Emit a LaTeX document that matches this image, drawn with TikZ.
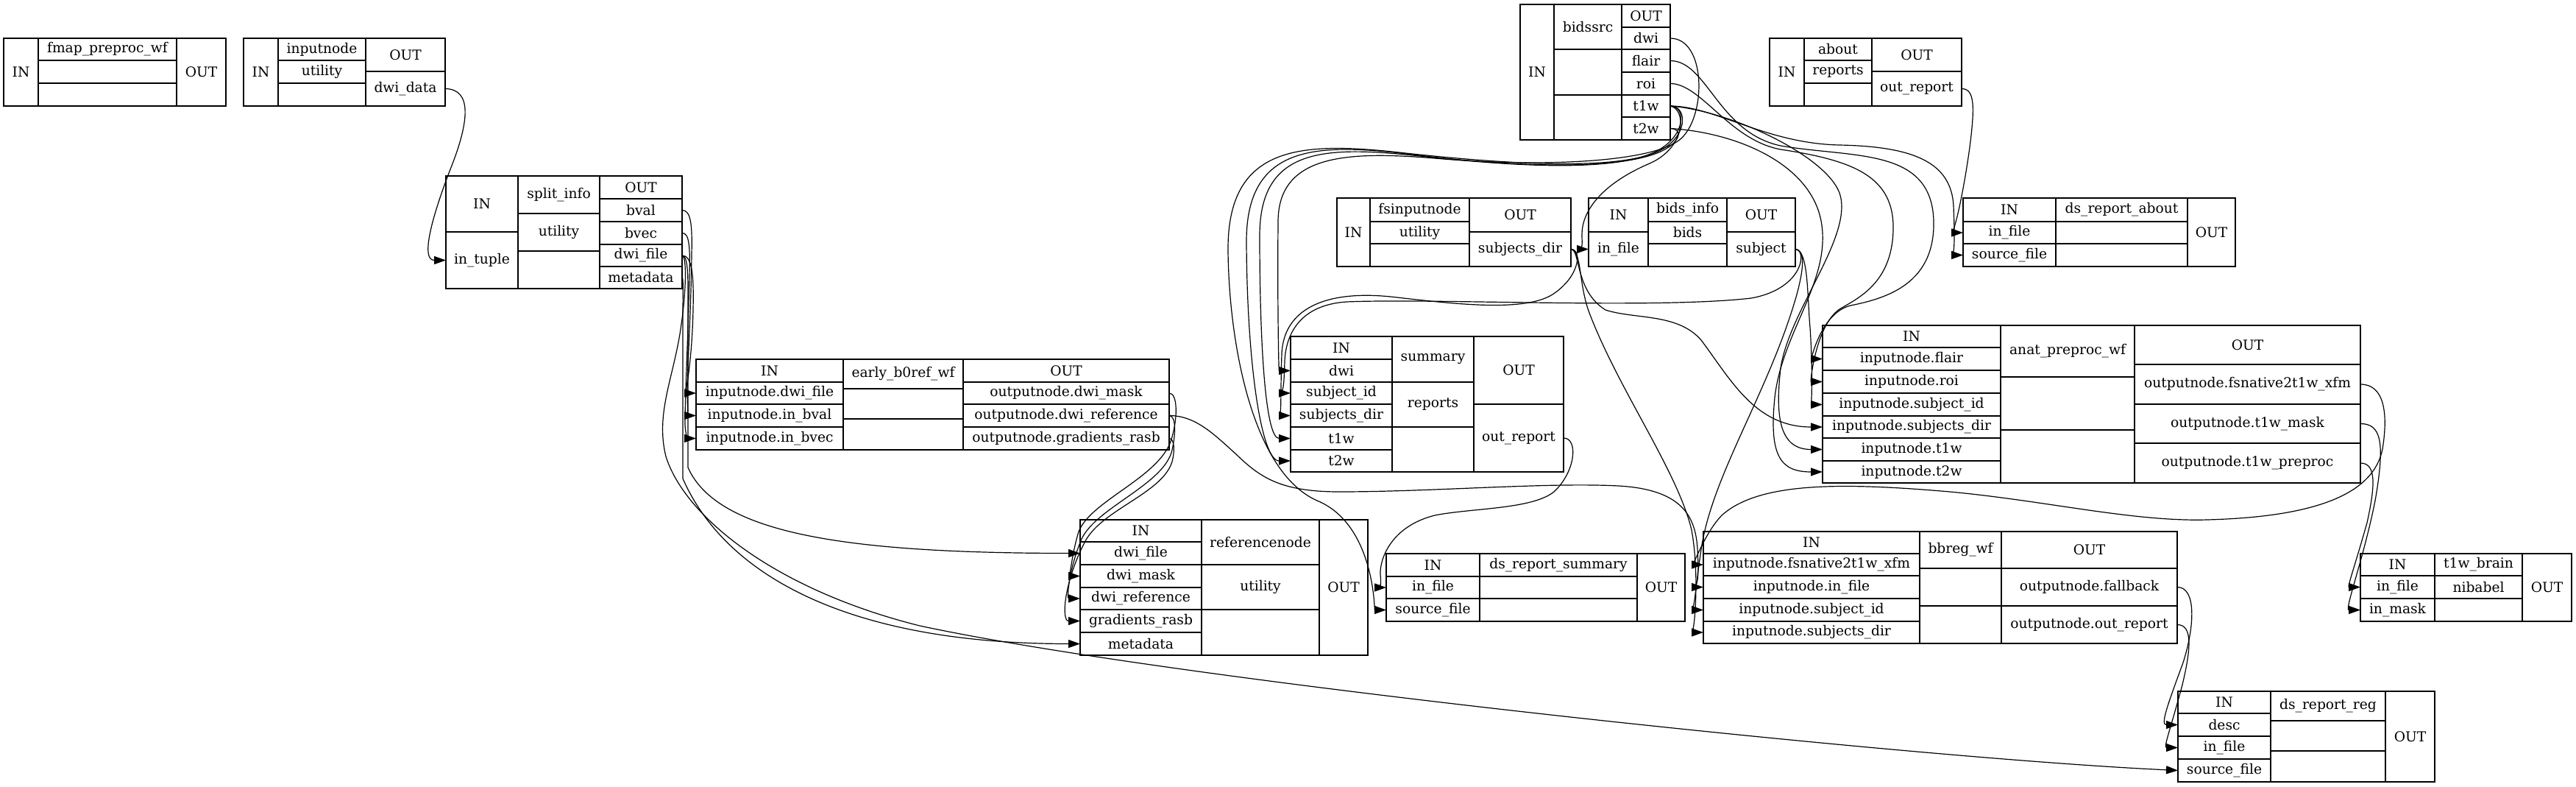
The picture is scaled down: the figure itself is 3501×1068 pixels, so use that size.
\documentclass[tikz,border=0pt]{standalone}
\usepackage{fontspec}
\setmainfont{DejaVu Serif}
\usetikzlibrary{arrows.meta}
\tikzset{
 cellbox/.style={draw=black, line width=1.3pt, inner sep=0pt, outer sep=0pt, font=\fontsize{18.67}{22}\selectfont, anchor=center},
 edge/.style={draw=black, line width=1.2pt, -{Triangle[length=16pt,width=11pt]}},
}
\newcommand\rc[6]{\node[cellbox, minimum width={#4pt-#2pt}, minimum height={#5pt-#3pt}] (#1) at ({(#2+#4)/2},{(#3+#5)/2}) {#6};}
\begin{document}
\begin{tikzpicture}[x=1pt,y=-1pt]
\fill[white] (0,0) rectangle (3501,1068);
\useasboundingbox (0,0) rectangle (3501,1068);
% fmap_preproc_wf
\rc{fmap-in}{5}{52}{52}{144}{IN}
\rc{fmap-t}{52}{52}{240}{82}{fmap\_preproc\_wf}
\rc{fmap-m1}{52}{82}{240}{113}{}
\rc{fmap-m2}{52}{113}{240}{144}{}
\rc{fmap-out}{240}{52}{307}{144}{OUT}
% inputnode
\rc{inp-in}{331}{52}{378}{144}{IN}
\rc{inp-t}{378}{52}{497}{82}{inputnode}
\rc{inp-u}{378}{82}{497}{113}{utility}
\rc{inp-m}{378}{113}{497}{144}{}
\rc{inp-out}{497}{52}{605}{97}{OUT}
\rc{inp-dwidata}{497}{97}{605}{144}{dwi\_data}
% split_info
\rc{spl-in}{606}{239}{704}{315}{IN}
\rc{spl-intuple}{606}{315}{704}{392}{in\_tuple}
\rc{spl-t}{704}{239}{815}{290}{split\_info}
\rc{spl-u}{704}{290}{815}{341}{utility}
\rc{spl-m}{704}{341}{815}{392}{}
\rc{spl-out}{815}{239}{927}{270}{OUT}
\rc{spl-bval}{815}{270}{927}{301}{bval}
\rc{spl-bvec}{815}{301}{927}{332}{bvec}
\rc{spl-dwifile}{815}{332}{927}{362}{dwi\_file}
\rc{spl-meta}{815}{362}{927}{392}{metadata}
% bidssrc
\rc{bs-in}{2066}{6}{2112}{190}{IN}
\rc{bs-t}{2112}{6}{2204}{67}{bidssrc}
\rc{bs-m1}{2112}{67}{2204}{129}{}
\rc{bs-m2}{2112}{129}{2204}{190}{}
\rc{bs-out}{2204}{6}{2270}{37}{OUT}
\rc{bs-dwi}{2204}{37}{2270}{67}{dwi}
\rc{bs-flair}{2204}{67}{2270}{98}{flair}
\rc{bs-roi}{2204}{98}{2270}{129}{roi}
\rc{bs-t1w}{2204}{129}{2270}{159}{t1w}
\rc{bs-t2w}{2204}{159}{2270}{190}{t2w}
% about
\rc{ab-in}{2405}{52}{2452}{144}{IN}
\rc{ab-t}{2452}{52}{2544}{82}{about}
\rc{ab-r}{2452}{82}{2544}{113}{reports}
\rc{ab-m}{2452}{113}{2544}{144}{}
\rc{ab-out}{2544}{52}{2666}{97}{OUT}
\rc{ab-outrep}{2544}{97}{2666}{144}{out\_report}
% fsinputnode
\rc{fs-in}{1817}{269}{1862}{362}{IN}
\rc{fs-t}{1862}{269}{1997}{301}{fsinputnode}
\rc{fs-u}{1862}{301}{1997}{331}{utility}
\rc{fs-m}{1862}{331}{1997}{362}{}
\rc{fs-out}{1997}{269}{2135}{315}{OUT}
\rc{fs-sd}{1997}{315}{2135}{362}{subjects\_dir}
% bids_info
\rc{bi-in}{2159}{269}{2240}{315}{IN}
\rc{bi-infile}{2159}{315}{2240}{362}{in\_file}
\rc{bi-t}{2240}{269}{2347}{301}{bids\_info}
\rc{bi-b}{2240}{301}{2347}{331}{bids}
\rc{bi-m}{2240}{331}{2347}{362}{}
\rc{bi-out}{2347}{269}{2440}{315}{OUT}
\rc{bi-subj}{2347}{315}{2440}{362}{subject}
% ds_report_about
\rc{dra-in}{2668}{269}{2794}{301}{IN}
\rc{dra-infile}{2668}{301}{2794}{331}{in\_file}
\rc{dra-src}{2668}{331}{2794}{362}{source\_file}
\rc{dra-t}{2794}{269}{2973}{301}{ds\_report\_about}
\rc{dra-m1}{2794}{301}{2973}{331}{}
\rc{dra-m2}{2794}{331}{2973}{362}{}
\rc{dra-out}{2973}{269}{3038}{362}{OUT}
% early_b0ref_wf
\rc{eb-in}{946}{488}{1146}{519}{IN}
\rc{eb-dwifile}{946}{519}{1146}{549}{inputnode.dwi\_file}
\rc{eb-bval}{946}{549}{1146}{580}{inputnode.in\_bval}
\rc{eb-bvec}{946}{580}{1146}{611}{inputnode.in\_bvec}
\rc{eb-t}{1146}{488}{1309}{528}{early\_b0ref\_wf}
\rc{eb-m1}{1146}{528}{1309}{569}{}
\rc{eb-m2}{1146}{569}{1309}{611}{}
\rc{eb-out}{1309}{488}{1589}{519}{OUT}
\rc{eb-mask}{1309}{519}{1589}{549}{outputnode.dwi\_mask}
\rc{eb-ref}{1309}{549}{1589}{580}{outputnode.dwi\_reference}
\rc{eb-grad}{1309}{580}{1589}{611}{outputnode.gradients\_rasb}
% summary
\rc{su-in}{1754}{457}{1892}{488}{IN}
\rc{su-dwi}{1754}{488}{1892}{519}{dwi}
\rc{su-sid}{1754}{519}{1892}{549}{subject\_id}
\rc{su-sd}{1754}{549}{1892}{580}{subjects\_dir}
\rc{su-t1w}{1754}{580}{1892}{611}{t1w}
\rc{su-t2w}{1754}{611}{1892}{641}{t2w}
\rc{su-t}{1892}{457}{2003}{519}{summary}
\rc{su-r}{1892}{519}{2003}{580}{reports}
\rc{su-m}{1892}{580}{2003}{641}{}
\rc{su-out}{2003}{457}{2125}{549}{OUT}
\rc{su-outrep}{2003}{549}{2125}{641}{out\_report}
% referencenode
\rc{rn-in}{1468}{706}{1633}{736}{IN}
\rc{rn-dwifile}{1468}{736}{1633}{767}{dwi\_file}
\rc{rn-mask}{1468}{767}{1633}{798}{dwi\_mask}
\rc{rn-ref}{1468}{798}{1633}{828}{dwi\_reference}
\rc{rn-grad}{1468}{828}{1633}{859}{gradients\_rasb}
\rc{rn-meta}{1468}{859}{1633}{890}{metadata}
\rc{rn-t}{1633}{706}{1793}{767}{referencenode}
\rc{rn-u}{1633}{767}{1793}{828}{utility}
\rc{rn-m}{1633}{828}{1793}{890}{}
\rc{rn-out}{1793}{706}{1859}{890}{OUT}
% ds_report_summary
\rc{drs-in}{1884}{752}{2011}{783}{IN}
\rc{drs-infile}{1884}{783}{2011}{813}{in\_file}
\rc{drs-src}{1884}{813}{2011}{844}{source\_file}
\rc{drs-t}{2011}{752}{2225}{783}{ds\_report\_summary}
\rc{drs-m1}{2011}{783}{2225}{813}{}
\rc{drs-m2}{2011}{813}{2225}{844}{}
\rc{drs-out}{2225}{752}{2290}{844}{OUT}
% anat_preproc_wf
\rc{an-in}{2477}{442}{2719}{472}{IN}
\rc{an-flair}{2477}{472}{2719}{503}{inputnode.flair}
\rc{an-roi}{2477}{503}{2719}{534}{inputnode.roi}
\rc{an-sid}{2477}{534}{2719}{565}{inputnode.subject\_id}
\rc{an-sd}{2477}{565}{2719}{595}{inputnode.subjects\_dir}
\rc{an-t1w}{2477}{595}{2719}{626}{inputnode.t1w}
\rc{an-t2w}{2477}{626}{2719}{656}{inputnode.t2w}
\rc{an-t}{2719}{442}{2901}{512}{anat\_preproc\_wf}
\rc{an-m1}{2719}{512}{2901}{584}{}
\rc{an-m2}{2719}{584}{2901}{656}{}
\rc{an-out}{2901}{442}{3208}{495}{OUT}
\rc{an-xfm}{2901}{495}{3208}{549}{outputnode.fsnative2t1w\_xfm}
\rc{an-mask}{2901}{549}{3208}{602}{outputnode.t1w\_mask}
\rc{an-pre}{2901}{602}{3208}{656}{outputnode.t1w\_preproc}
% bbreg_wf
\rc{bb-in}{2315}{722}{2609}{752}{IN}
\rc{bb-xfm}{2315}{752}{2609}{782}{inputnode.fsnative2t1w\_xfm}
\rc{bb-infile}{2315}{782}{2609}{813}{inputnode.in\_file}
\rc{bb-sid}{2315}{813}{2609}{844}{inputnode.subject\_id}
\rc{bb-sd}{2315}{844}{2609}{874}{inputnode.subjects\_dir}
\rc{bb-t}{2609}{722}{2720}{772}{bbreg\_wf}
\rc{bb-m1}{2609}{772}{2720}{823}{}
\rc{bb-m2}{2609}{823}{2720}{874}{}
\rc{bb-out}{2720}{722}{2959}{772}{OUT}
\rc{bb-fb}{2720}{772}{2959}{823}{outputnode.fallback}
\rc{bb-rep}{2720}{823}{2959}{874}{outputnode.out\_report}
% t1w_brain
\rc{tb-in}{3208}{752}{3309}{782}{IN}
\rc{tb-infile}{3208}{782}{3309}{813}{in\_file}
\rc{tb-mask}{3208}{813}{3309}{844}{in\_mask}
\rc{tb-t}{3309}{752}{3428}{782}{t1w\_brain}
\rc{tb-n}{3309}{782}{3428}{813}{nibabel}
\rc{tb-m}{3309}{813}{3428}{844}{}
\rc{tb-out}{3428}{752}{3495}{844}{OUT}
% ds_report_reg
\rc{drr-in}{2960}{939}{3086}{969}{IN}
\rc{drr-desc}{2960}{969}{3086}{1000}{desc}
\rc{drr-infile}{2960}{1000}{3086}{1031}{in\_file}
\rc{drr-src}{2960}{1031}{3086}{1062}{source\_file}
\rc{drr-t}{3086}{939}{3242}{979}{ds\_report\_reg}
\rc{drr-m1}{3086}{979}{3242}{1020}{}
\rc{drr-m2}{3086}{1020}{3242}{1062}{}
\rc{drr-out}{3242}{939}{3309}{1062}{OUT}

% ---- edges ----
\draw[edge] (inp-dwidata.east) .. controls (642,121) and (638,165) .. (612,230) .. controls (585,300) and (572,353.5) .. (spl-intuple.west);
% split_info
\draw[edge] (spl-bval.east) .. controls (939,285.5) and (941,305) .. (940,345) .. controls (939,430) and (934,500) .. (934,535) .. controls (934,556) and (937,564.5) .. (eb-bval.west);
\draw[edge] (spl-bvec.east) .. controls (937,316.5) and (938,335) .. (937,375) .. controls (935,460) and (931,540) .. (931,575) .. controls (931,590) and (936,595.5) .. (eb-bvec.west);
\draw[edge] (spl-dwifile.east) .. controls (941,347) and (943,375) .. (942,420) .. controls (941,480) and (933,534) .. (eb-dwifile.west);
\draw[edge] (spl-dwifile.east) .. controls (936,347) and (935,380) .. (935,420) -- (935,635) .. controls (975,725) and (1150,751.5) .. (rn-dwifile.west);
\draw[edge] (spl-meta.east) .. controls (929,377.5) and (928,395) .. (928,430) -- (928,650) .. controls (985,780) and (1150,874.5) .. (rn-meta.west);
\draw[edge] (spl-dwifile.east) .. controls (934,348) and (932,400) .. (926,440) .. controls (917,510) and (890,560) .. (905,620) .. controls (930,700) and (1050,800) .. (1250,850) .. controls (1600,925) and (2600,1030) .. (drr-src.west);
% early -> referencenode
\draw[edge] (eb-mask.east) .. controls (1601,534) and (1601,570) .. (1591,600) .. controls (1572,650) and (1483,680) .. (1466,722) .. controls (1456,755) and (1455,782.5) .. (rn-mask.west);
\draw[edge] (eb-ref.east) .. controls (1599,564.5) and (1598,592) .. (1592,615) .. controls (1577,660) and (1490,690) .. (1470,732) .. controls (1452,775) and (1450,813) .. (rn-ref.west);
\draw[edge] (eb-grad.east) .. controls (1596,595.5) and (1597,612) .. (1593,627) .. controls (1580,670) and (1498,692) .. (1475,735) .. controls (1446,790) and (1442,843.5) .. (rn-grad.west);
\draw[edge] (eb-ref.east) .. controls (1625,564.5) and (1650,590) .. (1680,617) .. controls (1712,648) and (1740,668) .. (1820,668) .. controls (1950,668) and (2100,655) .. (2200,660) .. controls (2285,665) and (2304,700) .. (2307,745) .. controls (2309,785) and (2308,797.5) .. (bb-infile.west);
% bidssrc -> summary
\draw[edge] (bs-dwi.east) .. controls (2318,52) and (2320,155) .. (2285,188) .. controls (2250,220) and (2100,228) .. (1950,215) .. controls (1830,205) and (1738,210) .. (1737,300) .. controls (1736,420) and (1738,503.5) .. (su-dwi.west);
\draw[edge] (bs-t1w.east) .. controls (2292,144) and (2292,185) .. (2250,206) .. controls (2190,235) and (2050,225) .. (1930,212) .. controls (1800,198) and (1712,200) .. (1712,320) .. controls (1712,470) and (1720,595.5) .. (su-t1w.west);
\draw[edge] (bs-t2w.east) .. controls (2288,174.5) and (2285,195) .. (2252,208) .. controls (2190,232) and (2050,226) .. (1920,210) .. controls (1790,194) and (1693,195) .. (1694,330) .. controls (1695,500) and (1715,626) .. (su-t2w.west);
\draw[edge] (bs-t1w.east) .. controls (2295,144) and (2295,190) .. (2248,208) .. controls (2185,232) and (2040,222) .. (1910,208) .. controls (1770,192) and (1668,195) .. (1669,340) .. controls (1670,460) and (1700,640) .. (1790,680) .. controls (1868,712) and (1868,828.5) .. (drs-src.west);
% fsinputnode / bids_info
\draw[edge] (fs-sd.east) .. controls (2150,338.5) and (2148,375) .. (2110,400) .. controls (2070,425) and (1970,412) .. (1890,403) .. controls (1800,394) and (1745,420) .. (1742,480) .. controls (1740,540) and (1742,564.5) .. (su-sd.west);
\draw[edge] (bi-subj.east) .. controls (2456,338.5) and (2452,392) .. (2380,405) .. controls (2250,420) and (1950,405) .. (1830,410) .. controls (1770,414) and (1748,450) .. (1746,490) .. controls (1745,520) and (1745,534) .. (su-sid.west);
\draw[edge] (fs-sd.east) .. controls (2148,338.5) and (2140,395) .. (2182,421) .. controls (2222,434) and (2280,425) .. (2312,462) .. controls (2352,515) and (2385,580) .. (an-sd.west);
\draw[edge] (fs-sd.east) .. controls (2150,340) and (2145,385) .. (2160,425) .. controls (2200,530) and (2280,640) .. (2299,720) .. controls (2310,780) and (2303,859) .. (bb-sd.west);
\draw[edge] (bi-subj.east) .. controls (2458,340) and (2456,400) .. (2460,445) .. controls (2464,505) and (2462,549.5) .. (an-sid.west);
\draw[edge] (bi-subj.east) .. controls (2455,340) and (2450,370) .. (2442,400) .. controls (2405,530) and (2330,640) .. (2313,740) .. controls (2305,790) and (2303,828.5) .. (bb-sid.west);
% summary -> ds_report_summary
\draw[edge] (su-outrep.east) .. controls (2145,595) and (2142,640) .. (2112,668) .. controls (2082,692) and (2000,690) .. (1950,700) .. controls (1890,715) and (1875,760) .. (1876,780) .. controls (1877,794) and (1878,798) .. (drs-infile.west);
% bidssrc -> bids_info, anat, ds_report_about
\draw[edge] (bs-t1w.east) .. controls (2292,148) and (2292,200) .. (2242,222) .. controls (2172,252) and (2150,290) .. (2150,318) .. controls (2150,333) and (2152,338.5) .. (bi-infile.west);
\draw[edge] (bs-flair.east) .. controls (2320,82.5) and (2335,180) .. (2420,198) .. controls (2520,215) and (2625,200) .. (2628,300) .. controls (2630,385) and (2565,405) .. (2515,415) .. controls (2475,425) and (2462,487.5) .. (an-flair.west);
\draw[edge] (bs-roi.east) .. controls (2312,113.5) and (2350,190) .. (2420,203) .. controls (2520,218) and (2575,240) .. (2573,313) .. controls (2571,385) and (2525,405) .. (2500,420) .. controls (2468,442) and (2460,518.5) .. (an-roi.west);
\draw[edge] (bs-t1w.east) .. controls (2330,144) and (2400,195) .. (2500,197) .. controls (2600,199) and (2652,220) .. (2655,280) .. controls (2657,330) and (2656,346.5) .. (dra-src.west);
\draw[edge] (ab-outrep.east) .. controls (2684,120.5) and (2684,145) .. (2677,200) .. controls (2668,265) and (2656,316) .. (dra-infile.west);
\draw[edge] (bs-t1w.east) .. controls (2350,150) and (2480,210) .. (2500,262) .. controls (2520,320) and (2432,420) .. (2420,500) .. controls (2412,570) and (2420,610.5) .. (an-t1w.west);
\draw[edge] (bs-t2w.east) .. controls (2360,180) and (2460,222) .. (2475,300) .. controls (2490,380) and (2422,450) .. (2412,540) .. controls (2404,620) and (2420,641) .. (an-t2w.west);
% anat outputs
\draw[edge] (an-xfm.east) .. controls (3240,522) and (3246,560) .. (3238,610) .. controls (3226,670) and (3150,702) .. (3000,706) .. controls (2900,709) and (2780,680) .. (2650,668) .. controls (2500,655) and (2390,655) .. (2340,700) .. controls (2316,725) and (2303,767) .. (bb-xfm.west);
\draw[edge] (an-mask.east) .. controls (3236,575.5) and (3242,600) .. (3228,680) .. controls (3212,760) and (3186,828.5) .. (tb-mask.west);
\draw[edge] (an-pre.east) .. controls (3230,629) and (3228,660) .. (3217,710) .. controls (3200,770) and (3190,797.5) .. (tb-infile.west);
% bbreg outputs
\draw[edge] (bb-fb.east) .. controls (2985,797.5) and (2983,850) .. (2967,900) .. controls (2945,960) and (2936,984.5) .. (drr-desc.west);
\draw[edge] (bb-rep.east) .. controls (2980,848.5) and (2978,880) .. (2966,930) .. controls (2950,990) and (2940,1015.5) .. (drr-infile.west);
\end{tikzpicture}
\end{document}
